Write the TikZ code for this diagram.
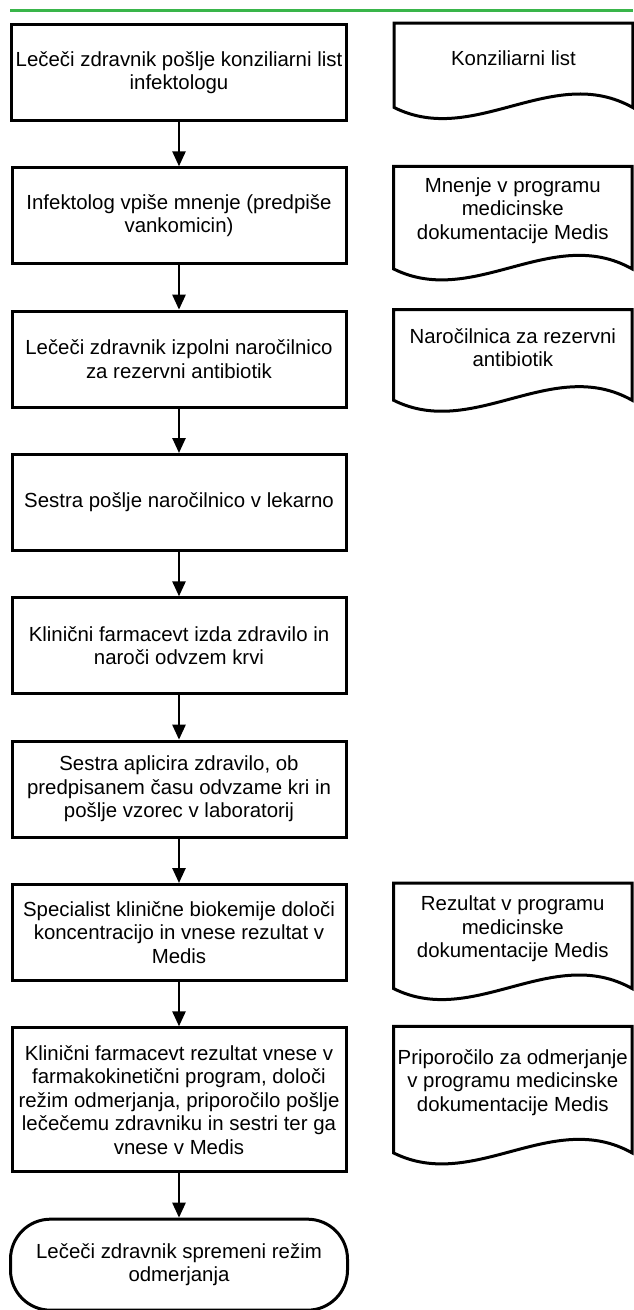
\documentclass[tikz,border=0pt]{standalone}
\usepackage{fontspec}
\setmainfont{Liberation Sans}
\usetikzlibrary{positioning,arrows.meta}
\definecolor{zelena}{RGB}{57,181,74}

\begin{document}
\begin{tikzpicture}[x=0.75pt, y=-0.75pt,
	node distance=33.25pt,
	font=\fontsize{15.3}{17.6}\selectfont,
	korak/.style={draw, line width=2.25pt, minimum width=250.5pt, minimum height=72pt, align=center},
	dokument/.style={minimum width=178.5pt, inner xsep=1pt, align=center},
	obris/.style={line width=2.25pt, line join=miter},
	tok/.style={line width=1.9pt, -{Triangle[length=11.25pt, width=9.75pt]}}
]
	\useasboundingbox (0,0) rectangle (633,1310);
	\draw [zelena, line width=2.25pt] (10,10.7) -- (633,10.7);
	
	\node (s1) [korak, anchor=north] at (179,23) {Lečeči zdravnik pošlje konziliarni list\\infektologu};
	\node (s2) [korak, below=of s1] {Infektolog vpiše mnenje (predpiše\\vankomicin)};
	\node (s3) [korak, below=of s2] {Lečeči zdravnik izpolni naročilnico\\za rezervni antibiotik};
	\node (s4) [korak, below=of s3] {Sestra pošlje naročilnico v lekarno};
	\node (s5) [korak, below=of s4] {Klinični farmacevt izda zdravilo in\\naroči odvzem krvi};
	\node (s6) [korak, below=of s5] {Sestra aplicira zdravilo, ob\\predpisanem času odvzame kri in\\pošlje vzorec v laboratorij};
	\node (s7) [korak, below=of s6] {Specialist klinične biokemije določi\\koncentracijo in vnese rezultat v\\Medis};
	\node (s8) [korak, minimum height=108pt, below=of s7] {Klinični farmacevt rezultat vnese v\\farmakokinetični program, določi\\režim odmerjanja, priporočilo pošlje\\lečečemu zdravniku in sestri ter ga\\vnese v Medis};
	\node (konec) [korak, rounded corners=30pt, minimum width=252.75pt, minimum height=68.25pt, below=of s8] {Lečeči zdravnik spremeni režim\\odmerjanja};
	
	\node (d1) [dokument, minimum height=52.5pt, right=34.5pt of s1.north east, anchor=north west] {Konziliarni list};
	\node (d2) [dokument, minimum height=66pt, right=34.5pt of s2.north east, anchor=north west] {Mnenje v programu\\medicinske\\dokumentacije Medis};
	\node (d3) [dokument, minimum height=57pt, right=34.5pt of s3.north east, anchor=north west] {Naročilnica za rezervni\\antibiotik};
	\node (d7) [dokument, minimum height=68.25pt, right=34.5pt of s7.north east, anchor=north west] {Rezultat v programu\\medicinske\\dokumentacije Medis};
	\node (d8) [dokument, minimum height=84pt, right=34.5pt of s8.north east, anchor=north west] {Priporočilo za odmerjanje\\v programu medicinske\\dokumentacije Medis};
	
	\foreach \a/\b in {s1/s2, s2/s3, s3/s4, s4/s5, s5/s6, s6/s7, s7/s8, s8/konec}
		\draw [tok] (\a.south) -- (\b.north);
	
	\foreach \d in {d1, d2, d3, d7, d8}
		\draw [obris] ([yshift=-10.5pt]\d.south west) .. controls +(80,40) and +(-80,-45) .. ([yshift=-10.5pt]\d.south east) -- (\d.north east) -- (\d.north west) -- cycle;
\end{tikzpicture}
\end{document}
